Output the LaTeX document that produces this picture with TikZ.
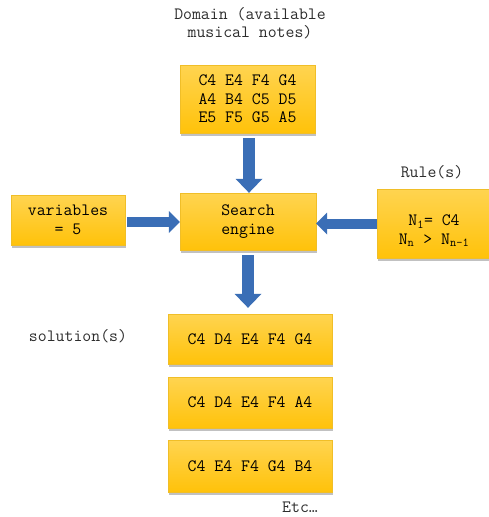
\documentclass[tikz,border=0pt]{standalone}
\usepackage{fontspec}
\usetikzlibrary{arrows.meta,shadows,calc}
\definecolor{goldtop}{RGB}{255,212,80}
\definecolor{goldbot}{RGB}{255,194,10}
\definecolor{goldedge}{RGB}{240,190,40}
\definecolor{arrowblue}{RGB}{58,110,182}
\definecolor{labelgrey}{RGB}{45,45,45}
\begin{document}
\begin{tikzpicture}[x=1pt,y=-1pt,
  box/.style={rectangle, top color=goldtop, bottom color=goldbot, draw=goldedge, line width=0.4pt,
    drop shadow={shadow xshift=1pt, shadow yshift=-2.5pt, opacity=0.35, fill=black!70},
    align=center, inner sep=0pt, font=\ttfamily\fontsize{17.3}{18.5}\selectfont, text=black},
  lbl/.style={align=center, inner sep=0pt, font=\ttfamily\fontsize{17.3}{18.5}\selectfont, text=labelgrey},
  barrow/.style={draw=arrowblue, line width=12pt,
    -{Triangle[width=27pt,length=14pt,line width=0pt,fill=arrowblue]}},
  harrow/.style={draw=arrowblue, line width=10pt,
    -{Triangle[width=22pt,length=11pt,line width=0pt,fill=arrowblue]}}
]
\useasboundingbox (0,0) rectangle (489,517);

\node[lbl] (title) at (250,23) {Domain (available\\musical notes)};
\node[box, minimum width=135pt, minimum height=68pt] (dom) at (247.5,99)
  {C4 E4 F4 G4\\A4 B4 C5 D5\\E5 F5 G5 A5};

\node[box, minimum width=136pt, minimum height=57pt] (search) at (248,221.5) {Search\\engine};
\node[box, minimum width=114pt, minimum height=50pt] (var) at (68,220) {variables\\= 5};
\node[lbl] (rulelbl) at (432,172) {Rule(s)};
\node[box, minimum width=112pt, minimum height=69pt] (rule) at (433,223.5) {};
\node[inner sep=0pt, align=center, font=\ttfamily\fontsize{17.3}{18.5}\selectfont] (ruletext) at (434,231)
  {N\textsubscript{1}= C4\\N\textsubscript{n} > N\textsubscript{n-1}};

\node[lbl] (sollbl) at (78,336) {solution(s)};
\node[box, minimum width=164pt, minimum height=50pt] (sol1) at (250,339) {C4 D4 E4 F4 G4};
\node[box, minimum width=164pt, minimum height=51pt] (sol2) at (250,402.5) {C4 D4 E4 F4 A4};
\node[box, minimum width=164pt, minimum height=52pt] (sol3) at (250,466) {C4 E4 F4 G4 B4};
\node[lbl] (etc) at (300,507) {Etc\ldots};

\draw[barrow] ([xshift=1.5pt,yshift=-5pt]dom.south) -- ([xshift=1.5pt]dom.south |- search.north);
\draw[barrow] ([yshift=-5pt]search.south) -- ([yshift=6pt]search.south |- sol1.north);
\draw[harrow] ([xshift=2pt,yshift=-2pt]var.east) -- ([yshift=-2pt]var.east -| search.west);
\draw[harrow] ([yshift=0pt]rule.west) -- (rule.west -| search.east);
\end{tikzpicture}
\end{document}
